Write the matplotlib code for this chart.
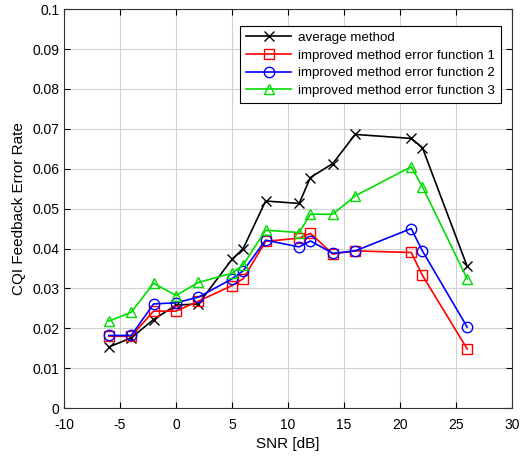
import matplotlib
matplotlib.use("Agg")
import matplotlib.pyplot as plt

plt.rcParams['font.family'] = ['Liberation Sans', 'DejaVu Sans']
plt.rcParams['axes.unicode_minus'] = False

snr = [-6, -4, -2, 0, 2, 5, 6, 8, 11, 12, 14, 16, 21, 22, 26]
avg = [0.0153, 0.0176, 0.0222, 0.0258, 0.0261, 0.0373, 0.0400, 0.0519, 0.0513, 0.0578, 0.0613, 0.0686, 0.0676, 0.0653, 0.0355]
ef1 = [0.0180, 0.0180, 0.0243, 0.0243, 0.0268, 0.0307, 0.0324, 0.0418, 0.0426, 0.0438, 0.0386, 0.0394, 0.0390, 0.0333, 0.0148]
ef2 = [0.0182, 0.0182, 0.0261, 0.0264, 0.0278, 0.0324, 0.0344, 0.0421, 0.0404, 0.0419, 0.0388, 0.0394, 0.0450, 0.0394, 0.0203]
ef3 = [0.0218, 0.0240, 0.0313, 0.0282, 0.0315, 0.0338, 0.0359, 0.0446, 0.0440, 0.0486, 0.0486, 0.0532, 0.0605, 0.0555, 0.0324]
labels = ['average method', 'improved method error function 1',
          'improved method error function 2', 'improved method error function 3']

fig = plt.figure(figsize=(5.3, 4.59), dpi=100)
ax = fig.add_axes([0.1208, 0.111, 0.8452, 0.869])

ax.plot(snr, avg, color='black', marker='x', ms=7, mew=1.0, lw=1.2, label=labels[0])
ax.plot(snr, ef1, color='red', marker='s', ms=6.5, mfc='none', mew=1.0, lw=1.2, label=labels[1])
ax.plot(snr, ef2, color='blue', marker='o', ms=7.5, mfc='none', mew=1.0, lw=1.2, label=labels[2])
ax.plot(snr, ef3, color='#00dd00', marker='^', ms=7.5, mfc='none', mew=1.0, lw=1.2, label=labels[3])

ax.set_xlim(-10, 30)
ax.set_ylim(0, 0.1)
ax.set_xticks(range(-10, 31, 5))
ax.set_yticks([i / 100 for i in range(0, 11)])
ax.set_yticklabels(['0'] + ['%g' % (i / 100) for i in range(1, 11)])
ax.grid(True, color='#d0d0d0', lw=0.8)
ax.tick_params(direction='in', top=True, right=True, labelsize=10, length=4)
ax.tick_params(axis='x', pad=7)
for s in ax.spines.values():
    s.set_color('#333333')
    s.set_linewidth(0.8)

ax.set_xlabel('SNR [dB]', fontsize=11, labelpad=4)
ax.set_ylabel('CQI Feedback Error Rate', fontsize=11)

leg = ax.legend(loc='upper right', bbox_to_anchor=(0.99, 0.975), fontsize=9.6,
                fancybox=False, framealpha=1, edgecolor='black',
                handlelength=3.4, borderpad=0.45, labelspacing=0.4, handletextpad=0.5)
leg.get_frame().set_linewidth(0.8)

fig.savefig('out.png', dpi=100)
